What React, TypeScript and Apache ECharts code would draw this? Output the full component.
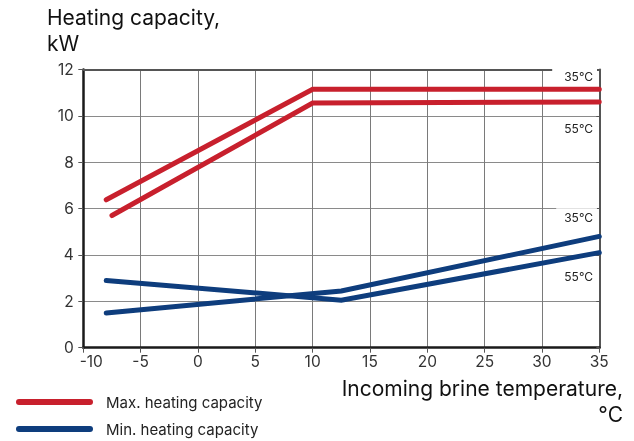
import React, { useEffect, useRef } from 'react';
import * as echarts from 'echarts';

const FONT = 'Inter';
const RED = '#c8202d';
const BLUE = '#0e3d7d';

const xTicks = { min: -10, max: 35, step: 5 };
const yTicks = { min: 0, max: 12, step: 2 };

const maxCap35: [number, number][] = [[-8, 6.38], [10, 11.15], [35, 11.15]];
const maxCap55: [number, number][] = [[-7.5, 5.7], [10, 10.55], [35, 10.6]];
const minCap35: [number, number][] = [[-8, 1.5], [12.5, 2.45], [35, 4.8]];
const minCap55: [number, number][] = [[-8, 2.9], [12.5, 2.05], [35, 4.1]];

const legendNames = ['Max. heating capacity', 'Min. heating capacity'];
const yTitle = ['Heating capacity,', 'kW'];
const xTitle = ['Incoming brine temperature,', '°C'];
const curveLabels = ['35°C', '55°C', '35°C', '55°C'];

function line(name: string, data: [number, number][], color: string) {
  return {
    type: 'line',
    name,
    data,
    symbol: 'none',
    color,
    lineStyle: { color, width: 5, cap: 'round', join: 'miter' },
    z: 5,
  };
}

export default function App() {
  const ref = useRef<HTMLDivElement>(null);
  useEffect(() => {
    const chart = echarts.init(ref.current!, null, { renderer: 'svg' });
    const tickLabel = { fontSize: 15.5, color: '#333', fontFamily: FONT };
    const option: any = {
      animation: false,
      grid: { left: 83.3, right: 34.7, top: 69.5, bottom: 93.3 },
      xAxis: [
        {
          type: 'value',
          min: xTicks.min,
          max: xTicks.max,
          interval: xTicks.step,
          axisLine: { show: true, onZero: false, lineStyle: { color: '#1a1a1a', width: 2.5 } },
          axisTick: { show: true, length: 5, lineStyle: { color: '#555' } },
          splitLine: { show: true, lineStyle: { color: '#7a7a7a', width: 1 } },
          axisLabel: {
            ...tickLabel,
            margin: 6,
            formatter: (v: number) =>
              v === xTicks.min ? '{m|-' + Math.abs(v) + '}' : v < 0 ? '-' + Math.abs(v) : String(v),
            rich: { m: { ...tickLabel, padding: [0, 0, 0, 16] } },
          },
        },
        {
          type: 'value',
          position: 'top',
          min: xTicks.min,
          max: xTicks.max,
          interval: xTicks.step,
          axisLine: { show: true, onZero: false, lineStyle: { color: '#555', width: 2 } },
          axisTick: { show: false },
          axisLabel: { show: false },
          splitLine: { show: false },
        },
      ],
      yAxis: [
        {
          type: 'value',
          min: yTicks.min,
          max: yTicks.max,
          interval: yTicks.step,
          axisLine: { show: true, onZero: false, lineStyle: { color: '#1a1a1a', width: 2.5 } },
          axisTick: { show: true, length: 5, lineStyle: { color: '#555' } },
          splitLine: { show: true, lineStyle: { color: '#8a8a8a', width: 1 } },
          axisLabel: { ...tickLabel, margin: 9.5 },
        },
        {
          type: 'value',
          position: 'right',
          min: yTicks.min,
          max: yTicks.max,
          interval: yTicks.step,
          axisLine: { show: true, onZero: false, lineStyle: { color: '#555', width: 2 } },
          axisTick: { show: true, inside: true, length: 3, lineStyle: { color: '#555' } },
          axisLabel: { show: false },
          splitLine: { show: false },
        },
      ],
      legend: {
        orient: 'vertical',
        left: 16,
        top: 393,
        padding: 0,
        itemWidth: 77,
        itemHeight: 6,
        itemGap: 9,
        icon: 'path://M3,0 L74,0 A3,3 0 0 1 74,6 L3,6 A3,3 0 0 1 3,0 Z',
        data: legendNames,
        textStyle: { fontSize: 15, lineHeight: 18, color: '#222', fontFamily: FONT, padding: [0, 0, 0, 8] },
      },
      series: [
        line(legendNames[0], maxCap35, RED),
        line(legendNames[0], maxCap55, RED),
        line(legendNames[1], minCap35, BLUE),
        line(legendNames[1], minCap55, BLUE),
      ],
      graphic: [
        { type: 'text', z: 100, x: 47, y: 17, style: { text: yTitle[0], font: `21px ${FONT}`, fill: '#111', verticalAlign: 'middle' } },
        { type: 'text', z: 100, x: 47, y: 43, style: { text: yTitle[1], font: `21px ${FONT}`, fill: '#111', verticalAlign: 'middle' } },
        { type: 'text', z: 100, x: 623, y: 388, style: { text: xTitle[0], font: `21px ${FONT}`, fill: '#111', align: 'right', verticalAlign: 'middle' } },
        { type: 'text', z: 100, x: 623, y: 414, style: { text: xTitle[1], font: `21px ${FONT}`, fill: '#111', align: 'right', verticalAlign: 'middle' } },
        { type: 'text', z: 100, x: 597, y: 76.7, style: { text: curveLabels[0], font: `12px ${FONT}`, fill: '#222', align: 'right', verticalAlign: 'middle', backgroundColor: '#fff', padding: [4, 4, 2, 12] } },
        { type: 'text', z: 100, x: 597, y: 128.3, style: { text: curveLabels[1], font: `12px ${FONT}`, fill: '#222', align: 'right', verticalAlign: 'middle', padding: [0, 4, 0, 0] } },
        { type: 'text', z: 100, x: 597, y: 217.3, style: { text: curveLabels[2], font: `12px ${FONT}`, fill: '#222', align: 'right', verticalAlign: 'middle', backgroundColor: '#fff', padding: [4, 4, 2, 8] } },
        { type: 'text', z: 100, x: 597, y: 276, style: { text: curveLabels[3], font: `12px ${FONT}`, fill: '#222', align: 'right', verticalAlign: 'middle', padding: [0, 4, 0, 0] } },
      ],
    };
    chart.setOption(option);
    return () => chart.dispose();
  }, []);
  return <div ref={ref} style={{ position: 'fixed', left: 0, top: 0, width: 634, height: 441 }} />;
}
